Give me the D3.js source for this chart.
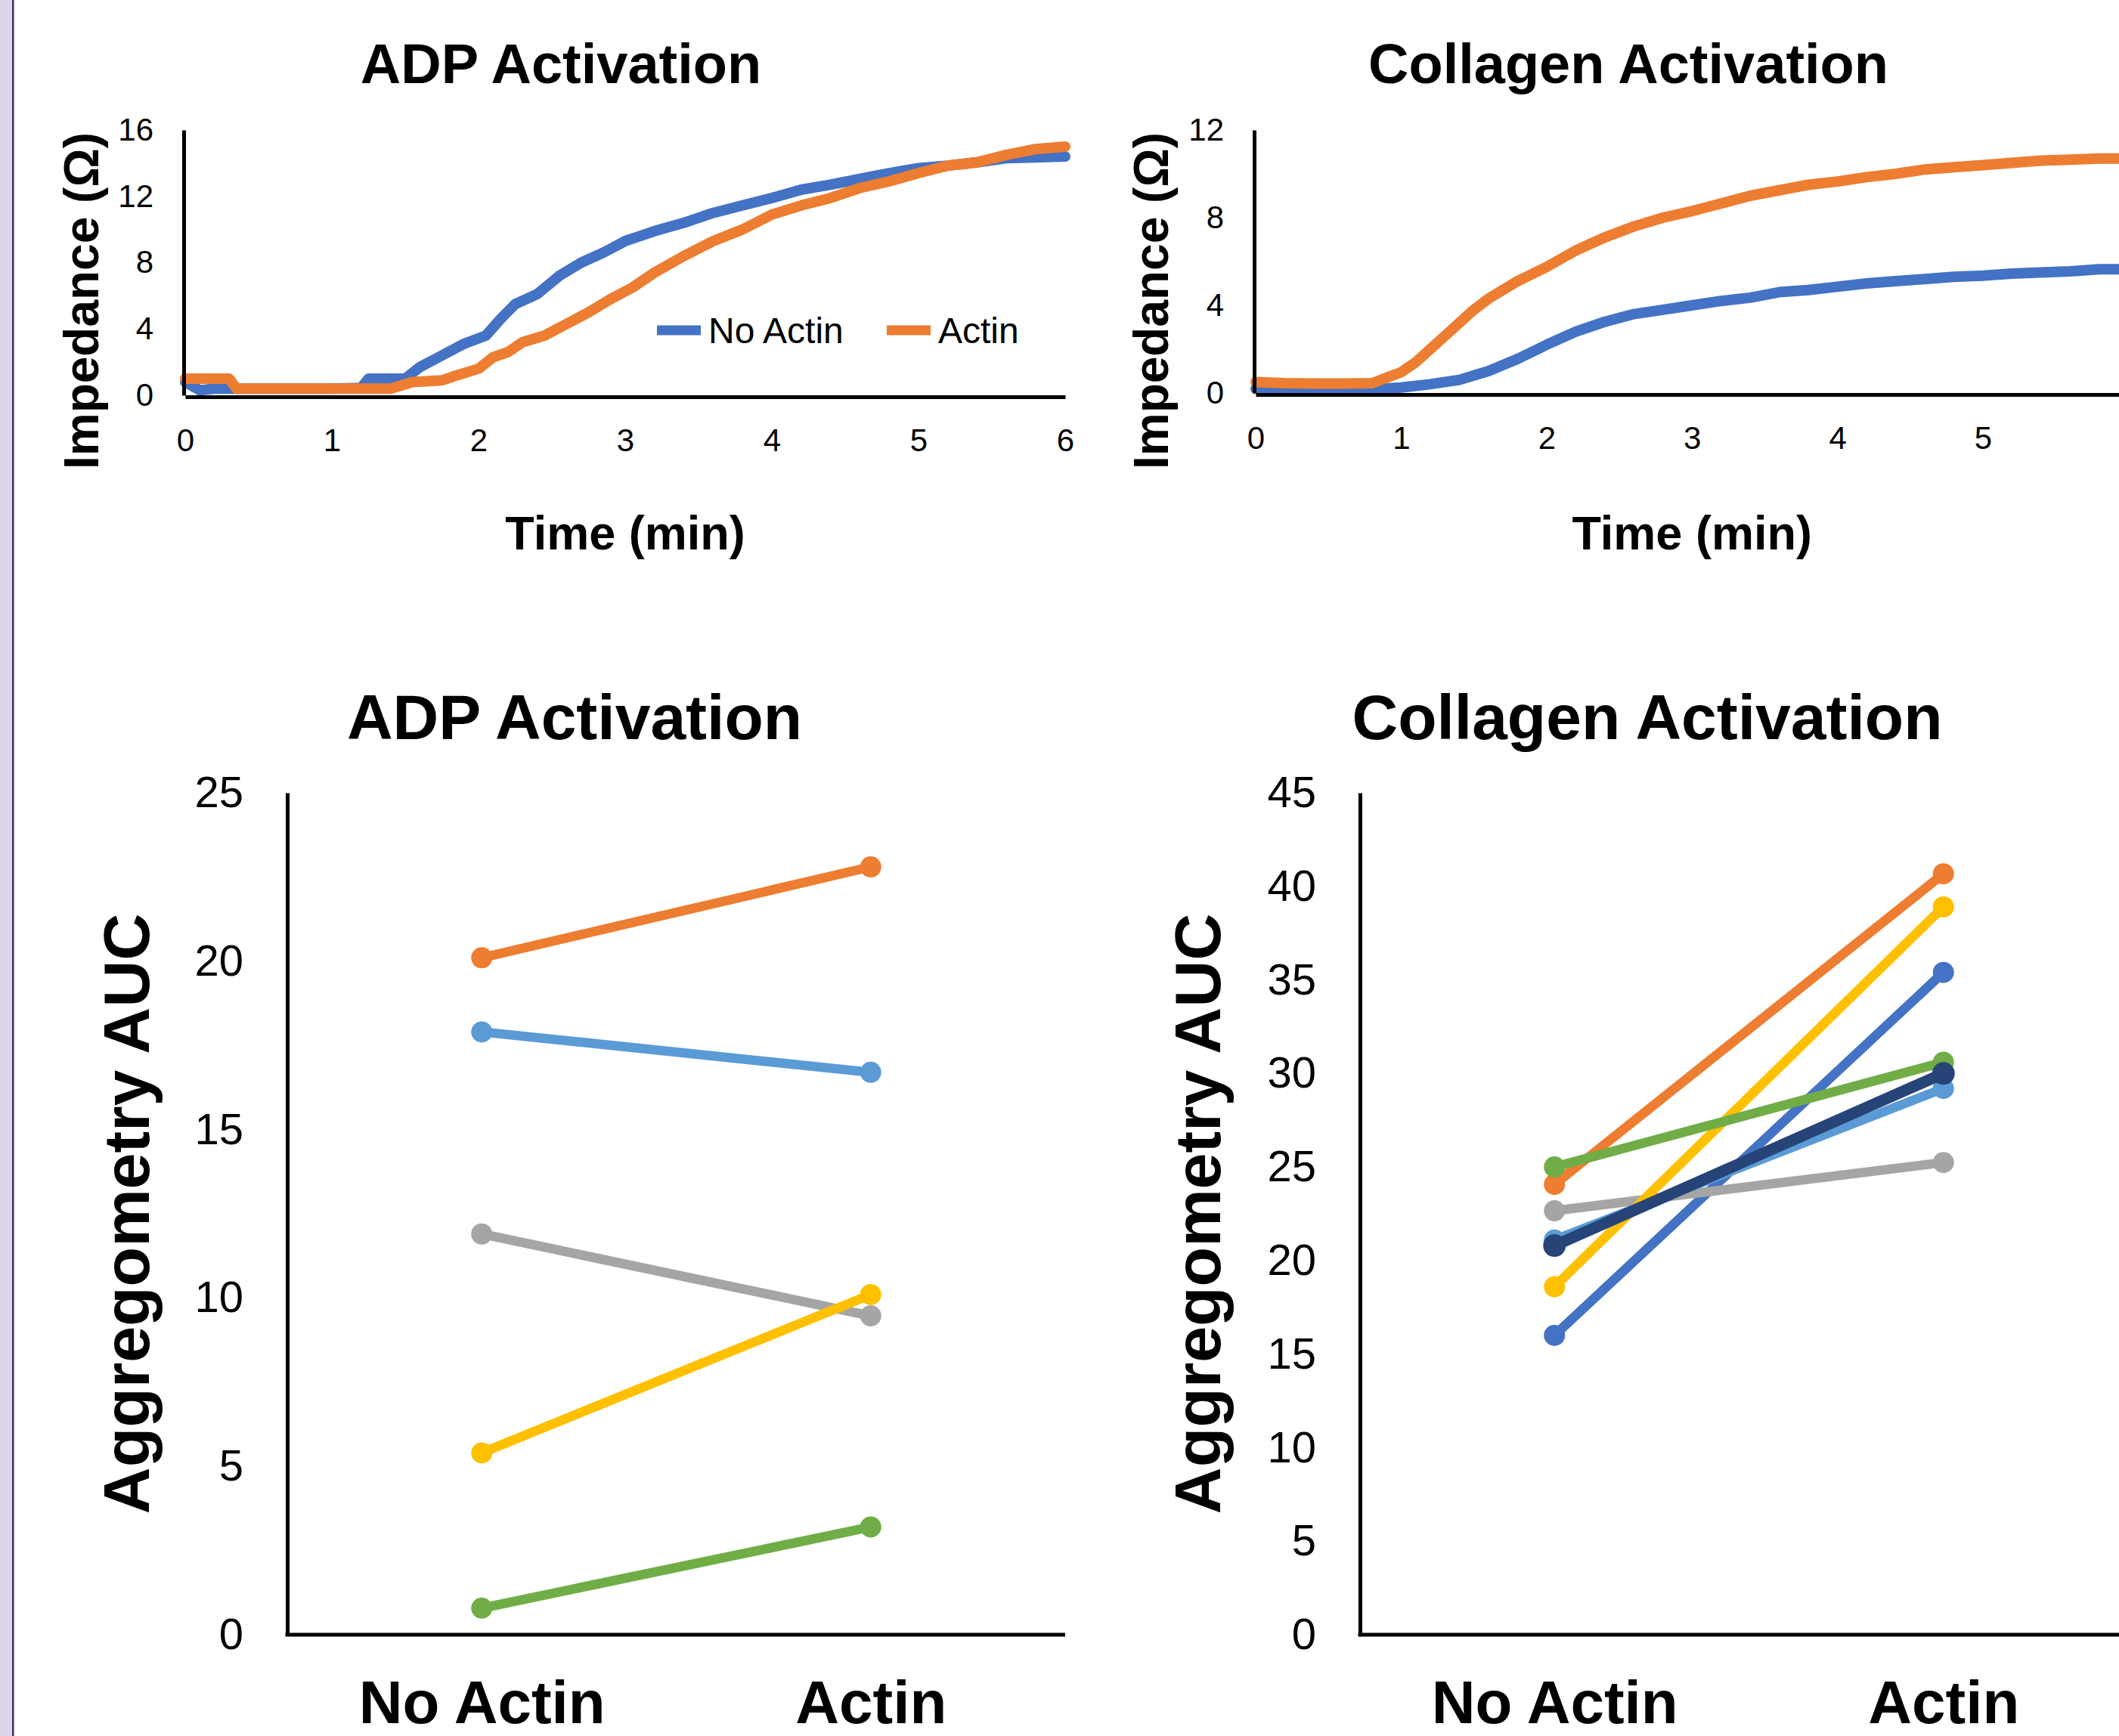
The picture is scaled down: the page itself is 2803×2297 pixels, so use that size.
<!DOCTYPE html>
<html>
<head>
<meta charset="utf-8">
<script src="https://cdn.jsdelivr.net/npm/d3@7"></script>
<style>
  body { margin: 0; background: #fff; }
  text { font-family: "Liberation Sans", Arial, sans-serif; fill: #000; }
</style>
</head>
<body>
<div id="chart"></div>
<script>
// ---- impedance traces (time in min, impedance in ohm) ----
var adpTimeTicks = [0, 1, 2, 3, 4, 5, 6];
var colTimeTicks = [0, 1, 2, 3, 4, 5];
var adpImpTicks = [0, 4, 8, 12, 16];
var colImpTicks = [0, 4, 8, 12];
var traceNames = ['No Actin', 'Actin'];
var traceColors = ['#4472C4', '#ED7D31'];

var adpNoActin = [[0, 0.8], [0.1, 0.3], [0.2, 0.4], [0.4, 0.4], [0.6, 0.4], [0.8, 0.4], [1.0, 0.4],
  [1.2, 0.45], [1.25, 1.0], [1.5, 1.0], [1.6, 1.7], [1.75, 2.4], [1.9, 3.1], [2.05, 3.6], [2.15, 4.6],
  [2.25, 5.5], [2.4, 6.1], [2.55, 7.2], [2.7, 8.0], [2.85, 8.6], [3.0, 9.3], [3.2, 9.9], [3.4, 10.4],
  [3.6, 11.0], [3.8, 11.45], [4.0, 11.9], [4.2, 12.4], [4.4, 12.7], [4.6, 13.05], [4.8, 13.4],
  [5.0, 13.7], [5.2, 13.85], [5.4, 14.05], [5.6, 14.3], [5.8, 14.35], [6.0, 14.4]];
var adpActin = [[0, 1.0], [0.3, 1.0], [0.35, 0.4], [0.6, 0.4], [0.8, 0.4], [1.0, 0.4], [1.2, 0.4],
  [1.4, 0.4], [1.55, 0.8], [1.75, 0.9], [1.85, 1.2], [2.0, 1.6], [2.1, 2.3], [2.2, 2.6], [2.3, 3.2],
  [2.45, 3.6], [2.6, 4.3], [2.75, 5.0], [2.9, 5.8], [3.05, 6.5], [3.2, 7.4], [3.4, 8.4], [3.6, 9.3],
  [3.8, 10.0], [4.0, 10.9], [4.2, 11.45], [4.4, 11.9], [4.6, 12.5], [4.8, 12.9], [5.0, 13.4],
  [5.2, 13.85], [5.4, 14.05], [5.6, 14.5], [5.8, 14.85], [6.0, 15.0]];
var colNoActin = [[0, 0.2], [0.2, 0.17], [0.4, 0.15], [0.6, 0.15], [0.8, 0.17], [1.0, 0.25],
  [1.2, 0.4], [1.4, 0.6], [1.6, 1.0], [1.8, 1.55], [2.0, 2.2], [2.2, 2.8], [2.4, 3.25], [2.6, 3.6],
  [2.8, 3.8], [3.0, 4.0], [3.2, 4.2], [3.4, 4.35], [3.6, 4.6], [3.8, 4.7], [4.0, 4.85], [4.2, 5.0],
  [4.4, 5.1], [4.6, 5.2], [4.8, 5.3], [5.0, 5.35], [5.2, 5.45], [5.4, 5.5], [5.6, 5.55], [5.8, 5.65],
  [6.0, 5.65]];
var colActin = [[0, 0.5], [0.2, 0.45], [0.4, 0.43], [0.6, 0.43], [0.8, 0.45], [0.9, 0.7],
  [1.0, 0.95], [1.1, 1.4], [1.2, 2.0], [1.3, 2.6], [1.4, 3.2], [1.5, 3.8], [1.6, 4.3], [1.8, 5.1],
  [2.0, 5.75], [2.2, 6.5], [2.4, 7.1], [2.6, 7.6], [2.8, 8.0], [3.0, 8.3], [3.2, 8.65], [3.4, 9.0],
  [3.6, 9.25], [3.8, 9.5], [4.0, 9.65], [4.2, 9.85], [4.4, 10.0], [4.6, 10.2], [4.8, 10.3],
  [5.0, 10.4], [5.2, 10.5], [5.4, 10.6], [5.6, 10.65], [5.8, 10.7], [6.0, 10.7]];

// ---- aggregometry AUC (No Actin, Actin) per donor ----
var aucCategories = ['No Actin', 'Actin'];
var adpAucTicks = [0, 5, 10, 15, 20, 25];
var colAucTicks = [0, 5, 10, 15, 20, 25, 30, 35, 40, 45];
var adpAuc = [[20.1, 22.8], [11.9, 9.47], [5.4, 10.1], [17.9, 16.7], [0.79, 3.2]];
var adpAucColors = ['#ED7D31', '#A5A5A5', '#FFC000', '#5B9BD5', '#70AD47'];
var colAuc = [[16.0, 35.4], [24.07, 40.67], [22.66, 25.24], [18.6, 38.9], [21.1, 29.2], [25.0, 30.6], [20.8, 30.0]];
var colAucColors = ['#4472C4', '#ED7D31', '#A5A5A5', '#FFC000', '#5B9BD5', '#70AD47', '#264478'];

var W = 2803, H = 2297;
var svg = d3.select('#chart').append('svg')
  .attr('width', W).attr('height', H);

svg.append('rect').attr('width', W).attr('height', H).attr('fill', '#fff');
// slide edge
svg.append('rect').attr('x', 0).attr('y', 0).attr('width', 16).attr('height', H).attr('fill', '#DCD6EC');
svg.append('rect').attr('x', 16).attr('y', 0).attr('width', 2.5).attr('height', H).attr('fill', '#3F2D6E');

function styleAxis(g, size) {
  g.select('.domain').attr('stroke', '#000').attr('stroke-width', 5);
  g.selectAll('.tick line').remove();
  g.selectAll('.tick text')
    .attr('font-size', size)
    .attr('font-family', '"Liberation Sans", Arial, sans-serif')
    .attr('fill', '#000');
}

function drawTrace(o) {
  var x = d3.scaleLinear().domain([0, 6]).range([o.left, o.left + o.minW * 6]);
  var y = d3.scaleLinear().domain([0, o.yMax]).range([o.bottom, o.top]);
  var g = svg.append('g');

  var line = d3.line()
    .x(function(d) { return x(d[0]); })
    .y(function(d) { return y(d[1]); });

  [o.noActin, o.actin].forEach(function(s, i) {
    g.append('path')
      .datum(s)
      .attr('d', line)
      .attr('fill', 'none')
      .attr('stroke', traceColors[i])
      .attr('stroke-width', 14)
      .attr('stroke-linejoin', 'round')
      .attr('stroke-linecap', 'round');
  });

  var gy = g.append('g')
    .attr('transform', 'translate(' + (o.left - 2) + ',0)')
    .call(d3.axisLeft(y).tickValues(o.yTicks).tickSize(0).tickSizeOuter(0).tickPadding(40));
  styleAxis(gy, 42);

  var gx = g.append('g')
    .attr('transform', 'translate(0,' + (o.bottom + 2) + ')')
    .call(d3.axisBottom(x).tickValues(o.xTicks).tickFormat(d3.format('d')).tickSize(0).tickSizeOuter(0));
  styleAxis(gx, 42);
  gx.selectAll('.tick text').attr('y', 72).attr('dy', 0);

  g.append('text')
    .attr('x', o.titleX).attr('y', 110)
    .attr('text-anchor', 'middle')
    .attr('font-size', 74).attr('font-weight', 'bold')
    .text(o.title);

  g.append('text')
    .attr('transform', 'translate(' + o.yTitleX + ',398) rotate(-90)')
    .attr('text-anchor', 'middle')
    .attr('font-size', 64).attr('font-weight', 'bold')
    .text('Impedance (Ω)');

  g.append('text')
    .attr('x', x(3)).attr('y', 727)
    .attr('text-anchor', 'middle')
    .attr('font-size', 63).attr('font-weight', 'bold')
    .text('Time (min)');

  if (o.legend) {
    var lx = [869, 1173];
    traceNames.forEach(function(name, i) {
      g.append('line')
        .attr('x1', lx[i]).attr('x2', lx[i] + 58)
        .attr('y1', 437).attr('y2', 437)
        .attr('stroke', traceColors[i]).attr('stroke-width', 13);
      g.append('text')
        .attr('x', lx[i] + 68).attr('y', 454)
        .attr('font-size', 48)
        .text(name);
    });
  }
}

function drawAuc(o) {
  var x = d3.scalePoint().domain(aucCategories).range([o.left, o.left + 1029]).padding(0.5);
  var y = d3.scaleLinear().domain([0, o.yMax]).range([2163, 1049]);
  var g = svg.append('g');

  var gy = g.append('g')
    .attr('transform', 'translate(' + o.left + ',0)')
    .call(d3.axisLeft(y).tickValues(o.yTicks).tickSize(0).tickSizeOuter(0).tickPadding(58));
  styleAxis(gy, 58);

  var gx = g.append('g')
    .attr('transform', 'translate(0,2163)')
    .call(d3.axisBottom(x).tickSize(0).tickSizeOuter(0));
  styleAxis(gx, 80);
  gx.select('.domain').attr('d', 'M' + (o.left - 2.5) + ',0H' + (o.left + 1029));
  gx.selectAll('.tick text').attr('y', 117).attr('dy', 0).attr('font-weight', 'bold');

  var line = d3.line()
    .x(function(d, i) { return x(aucCategories[i]); })
    .y(function(d) { return y(d); });

  o.data.forEach(function(vals, i) {
    var col = o.colors[i];
    var thick = col === '#264478';
    g.append('path')
      .datum(vals)
      .attr('d', line)
      .attr('fill', 'none')
      .attr('stroke', col)
      .attr('stroke-width', thick ? 15 : 12.5);
    g.selectAll(null)
      .data(vals)
      .enter().append('circle')
      .attr('cx', function(d, j) { return x(aucCategories[j]); })
      .attr('cy', function(d) { return y(d); })
      .attr('r', thick ? 15 : 14)
      .attr('fill', col);
  });

  g.append('text')
    .attr('x', o.titleX).attr('y', 978)
    .attr('text-anchor', 'middle')
    .attr('font-size', 84).attr('font-weight', 'bold')
    .text(o.title);

  g.append('text')
    .attr('transform', 'translate(' + o.yTitleX + ',1606) rotate(-90)')
    .attr('text-anchor', 'middle')
    .attr('font-size', 86).attr('font-weight', 'bold')
    .text('Aggregometry AUC');
}

drawTrace({
  left: 245, minW: 194, top: 172, bottom: 523, yMax: 16, yTicks: adpImpTicks, xTicks: adpTimeTicks,
  noActin: adpNoActin, actin: adpActin, title: 'ADP Activation', titleX: 742,
  yTitleX: 130, legend: true
});
drawTrace({
  left: 1661, minW: 192.4, top: 172, bottom: 520, yMax: 12, yTicks: colImpTicks, xTicks: colTimeTicks,
  noActin: colNoActin, actin: colActin, title: 'Collagen Activation', titleX: 2154,
  yTitleX: 1545, legend: false
});

drawAuc({
  left: 380, yMax: 25, yTicks: adpAucTicks, data: adpAuc, colors: adpAucColors,
  title: 'ADP Activation', titleX: 760, yTitleX: 197
});
drawAuc({
  left: 1799, yMax: 45, yTicks: colAucTicks, data: colAuc, colors: colAucColors,
  title: 'Collagen Activation', titleX: 2179, yTitleX: 1614
});
</script>
</body>
</html>
